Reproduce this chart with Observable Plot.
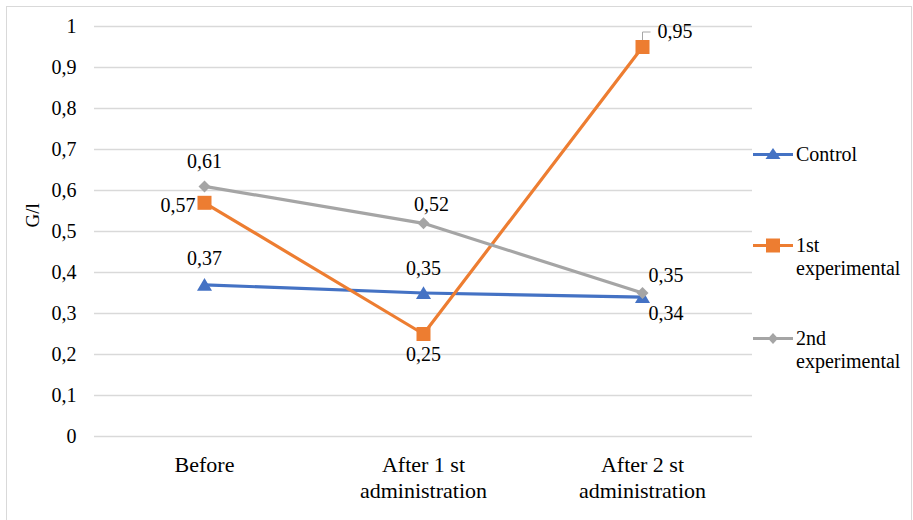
<!DOCTYPE html>
<html>
<head>
<meta charset="utf-8">
<script src="https://cdn.jsdelivr.net/npm/d3@7"></script>
<script src="https://cdn.jsdelivr.net/npm/@observablehq/plot@0.6"></script>
<style>
  html, body { margin: 0; padding: 0; background: #fff; }
  #chart { position: relative; width: 913px; height: 520px; overflow: hidden; font-family: "Liberation Serif", "Liberation Sans", sans-serif; }
  #frame { position: absolute; left: 6px; top: 6px; width: 904px; height: 530px; border: 1px solid #d9d9d9; pointer-events: none; }
  .legend-item { position: absolute; left: 753px; display: flex; align-items: flex-start; font-size: 20px; line-height: 23px; color: #000; }
  .legend-item svg { flex: none; margin-top: 4px; margin-right: 3px; }
</style>
</head>
<body>
<div id="chart"><div id="frame"></div></div>
<script>
// Values per sampling point, G/l
const categories = ["Before", "After 1 st\nadministration", "After 2 st\nadministration"];
const seriesNames = ["Control", "1st experimental", "2nd experimental"];
const control = [0.37, 0.35, 0.34];
const firstExperimental = [0.57, 0.25, 0.95];
const secondExperimental = [0.61, 0.52, 0.35];
const yTicks = [0, 0.1, 0.2, 0.3, 0.4, 0.5, 0.6, 0.7, 0.8, 0.9, 1];

const colors = ["#4472C4", "#ED7D31", "#A5A5A5"];
const font = "Liberation Serif, Liberation Sans, sans-serif";
const fmt = d => d3.format("~g")(d).replace(".", ",");

// Marker shapes; r is recovered from the area Plot passes in
const radius = size => Math.sqrt(size / Math.PI);
const triangle = { draw(ctx, size) { const r = radius(size); ctx.moveTo(0, -r * 0.9); ctx.lineTo(r, r * 0.8); ctx.lineTo(-r, r * 0.8); ctx.closePath(); } };
const square = { draw(ctx, size) { const r = radius(size); ctx.rect(-r, -r, 2 * r, 2 * r); } };
const diamond = { draw(ctx, size) { const r = radius(size); ctx.moveTo(0, -r); ctx.lineTo(r, 0); ctx.lineTo(0, r); ctx.lineTo(-r, 0); ctx.closePath(); } };
const leader = { draw(ctx) { ctx.moveTo(0, -7); ctx.lineTo(0, -15); ctx.lineTo(8, -15); } };

const series = [
  { name: seriesNames[0], values: control, color: colors[0], symbol: triangle, r: 7.5 },
  { name: seriesNames[1], values: firstExperimental, color: colors[1], symbol: square, r: 7 },
  { name: seriesNames[2], values: secondExperimental, color: colors[2], symbol: diamond, r: 6 }
];

// Where each value label sits relative to its point: [dx, dy, anchor]
const labelPlacement = [
  [[0, -26, "middle"], [0, -24, "middle"], [6, 16, "start"]],
  [[-9, 3, "end"], [0, 21, "middle"], [15, -15, "start"]],
  [[0, -25, "middle"], [8, -19, "middle"], [6, -17, "start"]]
];

const marks = [
  Plot.ruleY(yTicks, { stroke: "#d9d9d9", strokeWidth: 1.3 }),
  Plot.axisY(yTicks, { tickSize: 0, tickPadding: 18, tickFormat: fmt, label: null, fontSize: 20 }),
  Plot.axisX({ tickSize: 0, tickPadding: 18, lineHeight: 1.15, label: null, fontSize: 22 }),
  Plot.text(["G/l"], { frameAnchor: "left", dx: -62, dy: -4, rotate: -90, fontSize: 19, fill: "#000" })
];

series.forEach((s) => {
  const rows = categories.map((c, i) => ({ category: c, value: s.values[i] }));
  marks.push(Plot.line(rows, { x: "category", y: "value", stroke: s.color, strokeWidth: 3.2 }));
  marks.push(Plot.dot(rows, { x: "category", y: "value", symbol: s.symbol, r: s.r, fill: s.color, stroke: "none" }));
});

series.forEach((s, si) => {
  categories.forEach((c, i) => {
    const [dx, dy, anchor] = labelPlacement[si][i];
    marks.push(Plot.text([{ category: c, value: s.values[i] }], {
      x: "category", y: "value", text: d => fmt(d.value), dx, dy, textAnchor: anchor, fontSize: 20, fill: "#000"
    }));
  });
});

// Callout tick for the peak value
marks.push(Plot.dot([{ category: categories[2], value: firstExperimental[2] }], {
  x: "category", y: "value", symbol: leader, r: 4, fill: "none", stroke: "#a6a6a6", strokeWidth: 1
}));

const chart = Plot.plot({
  width: 913,
  height: 520,
  marginLeft: 94,
  marginRight: 161,
  marginTop: 26,
  marginBottom: 84,
  style: { fontFamily: font, fontSize: "20px", color: "#000", background: "transparent", overflow: "visible" },
  x: { type: "point", domain: categories, padding: 0.5, axis: null },
  y: { domain: [0, 1], axis: null },
  marks
});
chart.style.position = "absolute";
chart.style.left = "0px";
chart.style.top = "0px";

const root = document.getElementById("chart");
root.insertBefore(chart, root.firstChild);

// Legend to the right of the plot
const legendTop = [143, 234, 327];
const shapePaths = [
  "M20,1 L27.5,12 L12.5,12 Z",
  "M13,0.5 h14 v14 h-14 Z",
  "M20,2 L25,7.5 L20,13 L15,7.5 Z"
];
series.forEach((s, i) => {
  const item = document.createElement("div");
  item.className = "legend-item";
  item.style.top = legendTop[i] + "px";
  item.innerHTML =
    `<svg width="40" height="15" viewBox="0 0 40 15"><line x1="0" x2="40" y1="7.5" y2="7.5" stroke="${s.color}" stroke-width="3.2"/>` +
    `<path d="${shapePaths[i]}" fill="${s.color}"/></svg>` +
    `<span>${s.name.replace(" ", "<br>")}</span>`;
  root.appendChild(item);
});
</script>
</body>
</html>
